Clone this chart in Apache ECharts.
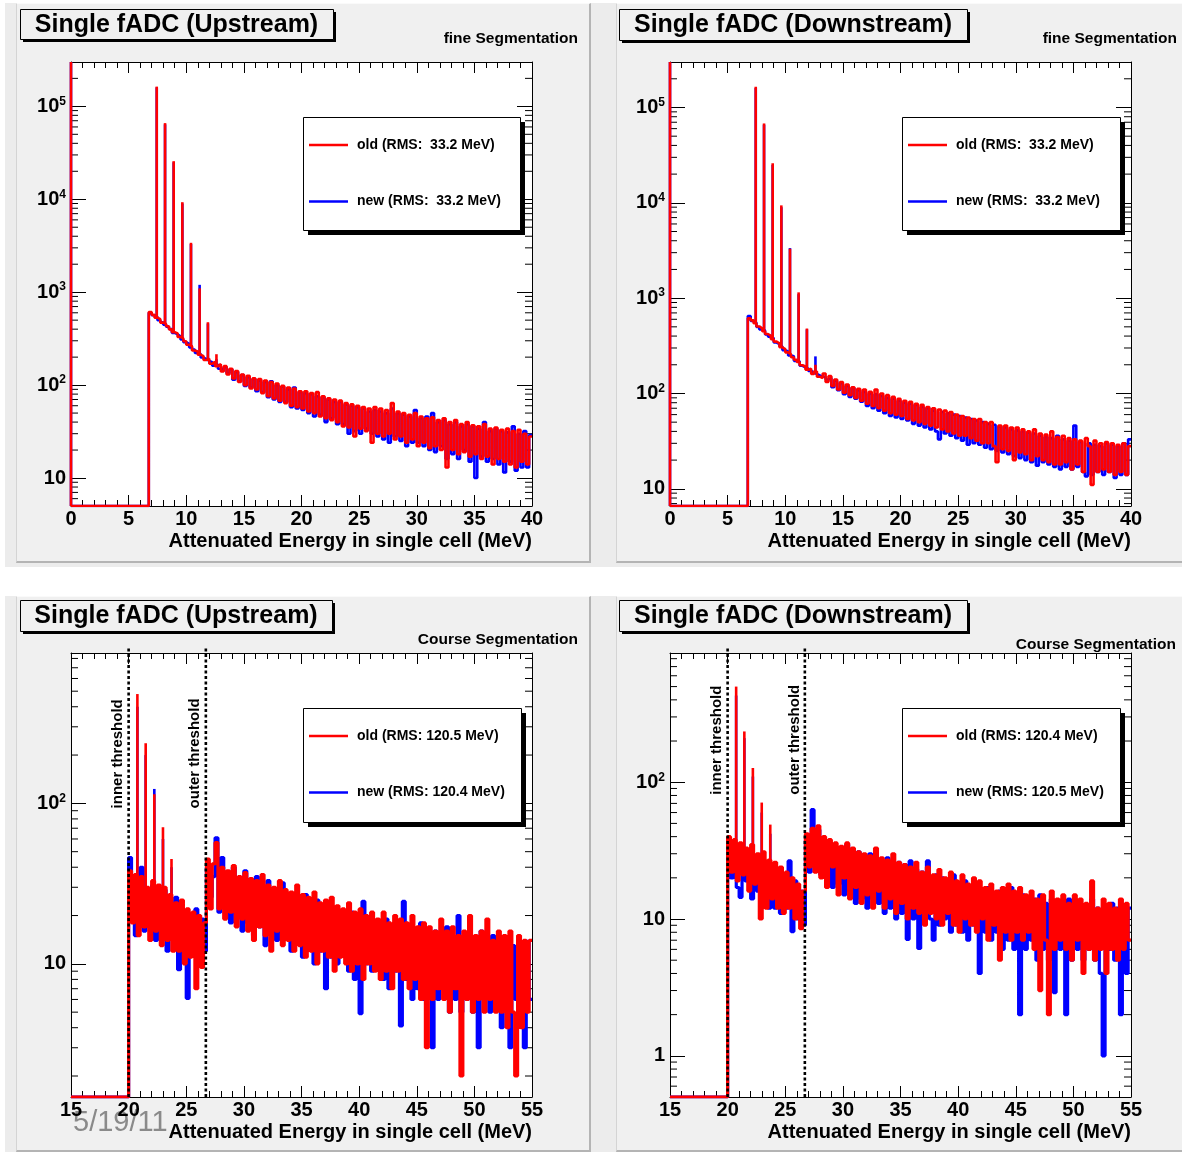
<!DOCTYPE html>
<html><head><meta charset="utf-8">
<script src="https://cdn.jsdelivr.net/npm/echarts@6/dist/echarts.min.js"></script>
<style>
html,body{margin:0;padding:0;background:#fff;}
#wrap{position:relative;width:1182px;height:1152px;overflow:hidden;background:#fff;}
.cv{position:absolute;background:#ececec;}
.pad{position:absolute;background:#f0f0f0;box-sizing:border-box;border-left:1px solid #d4d4d4;border-top:1px solid #fafafa;border-right:2px solid #b4b4b4;border-bottom:2px solid #b4b4b4;}
#chart{position:absolute;left:0;top:0;width:1182px;height:1152px;}
</style></head><body>
<div id="wrap">
<div class="cv" style="left:5px;top:3px;width:1177px;height:564px"></div>
<div class="cv" style="left:5px;top:596px;width:1177px;height:556px"></div>
<div class="pad" style="left:16px;top:3px;width:575px;height:560px"></div>
<div class="pad" style="left:616px;top:3px;width:570px;height:560px"></div>
<div class="pad" style="left:16px;top:596px;width:575px;height:556px"></div>
<div class="pad" style="left:616px;top:596px;width:570px;height:556px"></div>
<div id="chart"></div>
</div>
<script>
// ---------------- DATA ----------------
// fine segmentation: bins of 0.25 MeV from 0 to 40; bins 0..26 are empty,
// continuum from 6.75 MeV onwards; the off-scale count at 0 MeV is drawn as a spike
const fineBinWidth = 0.25;
const fineEmptyBins = 27;
const fineUpRed = [612,570,532,512,470,455,430,398,372,360,
 330,318,296,272,262,236,230,212,205,186,192,170,178,160,168,
 140,160,130,150,118,142,108,130,100,126,92,118,90,
 116,82,112,76,108,72,104,68,98,64,94,60,92,58,86,56,
 86,52,82,50,84,46,76,44,72,42,70,40,68,36,64,35,62,28,60,34,58,32,56,24,
 58,30,56,28,54,30,64,26,52,28, 50,24,48,26,50,22,46,24,44,21,
 45,22,42,20,44,13,40,20,42,18, 38,19,40,17,37,18,36,16,38,17,
 34,14,35,16,33,15,34,14,32,13, 33,15,30,14,28];
const fineUpBlue = [600,565,540,500,475,448,425,402,365,352,
 335,310,290,278,255,242,222,216,198,190,182,176,162,168,150,
 146,156,134,148,114,138,110,128,98,122,94,116,86,
 112,84,108,74,110,70,100,66,96,66,90,58,94,56,84,54,
 82,50,80,46,76,48,74,40,70,44,66,38,66,38,62,30,60,32,58,30,56,34,52,30,
 54,28,52,26,50,24,56,28,50,25, 48,22,46,24,54,24,44,22,46,20,
 50,19,40,22,42,16,38,18,40,16, 36,20,38,15,36,10,34,17,40,15,
 32,16,34,14,32,11.5,31,15,36,12, 30,13,32,13,29];
const fineDownRed = [615,585,545,505,482,450,420,405,372,350,
 336,305,292,270,258,240,226,214,198,192,178,182,160,170,150,
 145,162,132,152,120,140,110,132,102,124,96,116,90,
 112,84,110,78,104,74,110,70,100,66,96,62,92,60,88,58,
 84,54,82,52,78,50,76,48,72,46,70,44,68,42,66,40,64,38,60,36,58,36,56,34,
 54,32,54,30,50,30,50,28,19,46, 26,46,25,44,20,44,24,42,23,40,
 20,42,22,38,20,37,19,40,18,35, 18,36,19,34,16,33,18,32,15,34,
 28,11,32,15,30,16,31,15,30,14, 29,15,30,14,28];
const fineDownBlue = [650,578,552,498,470,458,415,395,380,342,
 330,312,285,276,250,245,220,218,195,188,182,172,166,160,155,
 150,150,140,146,116,136,108,128,98,120,92,114,88,
 108,82,104,74,100,70,98,66,94,62,90,58,88,56,84,54,
 80,52,78,48,76,46,72,44,70,42,66,40,33,64,38,62,36,60,34,58,32,56,29,54,
 30,52,29,50,27,48,26,47,25,45, 24,44,23,42,22,41,21,40,20,39,
 19,38,17.5,36,19,35,18,34,17,36, 16,33,17,32,16,46,17,31,15,13.5,
 30,14,29,15,28,14,30,15,29,13, 28,14,30,14,33];
// single-bin spikes (position in MeV, height in counts); first entry = off-scale bin at 0 MeV
const fineSpikeX = [0, 7.44, 8.16, 8.91, 9.66, 10.41, 11.16, 11.88, 12.62];
const fineUpRedSpike = [1e7, 163000, 66000, 25700, 9300, 3400, 1100, 475, 215];
const fineUpBlueSpike = [1e7, 160000, 64000, 25000, 9000, 3300, 1200, 460, 190];
const fineDownRedSpike = [1e7, 165000, 68000, 26000, 9400, 3300, 1150, 480, 200];
const fineDownBlueSpike = [1e7, 160000, 66000, 25000, 9000, 3350, 1100, 470, 245];

// course segmentation: bins of 0.25 MeV from 15 to 55; bins 15..20 empty
const coarseBinWidth = 0.25;
const coarseEmptyBins = 20;
const coarseUpRed = [38,18,36,15,35,17,30,14,33,16,
 31,13,30,14,27,12,24,12,25,10,
 22,11,21,7,20,9.5,18,45,22,42,
 57,22,40,19,38,21,41,17,35,19,
 37,16,34,14,33,17,36,15,31,12,
 30,16,33,13,29,14,28,12,31,13,
 27,11,26,12,28,10,24,12,25,11,
 26,9,23,11,22,10,24,9,21,10,
 22,8,20,10,21,9,19,8,21,9,
 18,7,20,9,19,8,18,7,20,8,
 17,6,18,3,17,6,16,7,19,6,
 16,5,17,7,15,2,16,6,20,5,
 15,6,16,5,19,6,14,5,16,5,
 15,4,16,5,2,15,4,14,5,14];
const coarseUpBlue = [46,20,15,34,40,16,28,20,31,14,
 26,17,29,12,24,15,26,9.2,21,14,
 6.1,20,13,22,11,19,12,40,26,35,
 61,21,46,23,37,18,40,22,34,16,
 38,18,31,15,35,17,29,13,33,16,
 28,14,27,32,15,25,12,26,14,24,
 11,27,13,22,10,25,12,21,7,23,
 11,22,10,20,12,19,9,21,8,20,
 4.9,24.5,10,19,9,18,11,17,8,19,
 7,16,9,18,4.1,24.5,8,17,6,16,
 7,18,6,15,7,3,16,6,15,7,
 17,5,14,6,20,5,15,6,13,5,
 14,3,16,6,13,5,15,6,12,4,
 14,5,3,13,6,12,5,3,13.8,6];
const coarseDownRed = [40,22,38,19,36,21,33,16,35,18,
 30,10,31,12,27,14,26,12,24,11,
 22,12,20,10,18,8.5,16,42,24,46,
 22,48,20,40,17,38,24,36,15,34,
 20,36,14,33,17,31,13,30,15,29,
 12,33,16,28,12,27,14,30,11,26,
 13,25,10,24,12,26,11,22,9,24,
 11,21,10,23,9,20,11,22,9,19,
 8,21,10,18,9,20,8,19,10,17,
 7,18,9,16,5,17,8,18,7,16,
 8,17,7,15,8,16,6,14,3,15,
 7,2,16,6,14,7,15,6,13,5,
 15,7,14,4,13,6,19,5,12,6,
 14,4,13,6,12,5,14,6,13,7];
const coarseDownBlue = [37,20,34,17,14.4,30,19,28,14,26,
 16,27,13,25,12,24,12,22,11,20,
 12,26.6,8.1,19,10,16,9,38,22,63,
 26,45,21,38,19,36,17,34,18,32,
 15,35,16,30,13,31,14,29,12,30,
 14,27,13,26,11,28,12,24,10,26,
 11,25,7.1,26.6,10,23,6.1,22,11,26.6,
 10,7,21,9,20,10,19,8,21,9,
 18,8,19,7,17,9,18,4,16,8,
 17,7,15,8,16,6,15,7,17,6,
 14,2,15,6,13,7,14,5,15,6,
 13,5,14,2.9,12,6,13,2,14,5,
 12,6,13,5,11,6,14,5,12,4,
 1,11,6,13,5,12,2,11,4,12];
const coarseUpSpikeX = [20.76, 21.48, 22.23, 22.98, 23.72];
const coarseUpRedSpike = [480, 237, 114, 71, 45];
const coarseUpBlueSpike = [400, 200, 123, 60, 40];
const coarseDownSpikeX = [20.74, 21.45, 22.19, 22.96, 23.7];
const coarseDownRedSpike = [500, 235, 127, 71, 49];
const coarseDownBlueSpike = [430, 210, 110, 60, 42];

// thresholds (MeV) and their labels
const thresholdX = [20, 26.7];
const thresholdNames = ['inner threshold', 'outer threshold'];
const thresholdLabelXUp = [19.08, 25.76];
const thresholdLabelXDown = [19.03, 25.8];
const thresholdLabelYUp = 93;
const thresholdLabelYDown = 81;

// axes / tick labels / texts
const xTicksFine = [0, 40, 5];     // min, max, step
const xTicksCoarse = [15, 55, 5];
const yRangeFineUp = [5, 3e5];
const yRangeFineDown = [6.6, 3e5];
const yRangeCoarseUp = [1.48, 865];
const yRangeCoarseDown = [0.5, 880];
const titles = ['Single fADC (Upstream)', 'Single fADC (Downstream)', 'Single fADC (Upstream)', 'Single fADC (Downstream)'];
const subtitles = ['fine Segmentation', 'fine Segmentation', 'Course Segmentation', 'Course Segmentation'];
const xTitle = 'Attenuated Energy in single cell (MeV)';
const legendOld = ['old (RMS:  33.2 MeV)', 'old (RMS:  33.2 MeV)', 'old (RMS: 120.5 MeV)', 'old (RMS: 120.4 MeV)'];
const legendNew = ['new (RMS:  33.2 MeV)', 'new (RMS:  33.2 MeV)', 'new (RMS: 120.4 MeV)', 'new (RMS: 120.5 MeV)'];
const dateStamp = '5/19/11';

// ---------------- BUILD ----------------
const FONT = '"Liberation Sans", Arial, Helvetica, sans-serif';
const RED = '#ff0000', BLUE = '#0000ff';
const zeros = n => Array(n).fill(0);

const panels = [
  {grid:{left:71, top:62, width:461, height:444}, xr:xTicksFine, yr:yRangeFineUp, bw:fineBinWidth, lw:2.6,
   red:zeros(fineEmptyBins).concat(fineUpRed), blue:zeros(fineEmptyBins).concat(fineUpBlue),
   spikeX:fineSpikeX, redSpike:fineUpRedSpike, blueSpike:fineUpBlueSpike},
  {grid:{left:670, top:62, width:461, height:444}, xr:xTicksFine, yr:yRangeFineDown, bw:fineBinWidth, lw:2.6,
   red:zeros(fineEmptyBins).concat(fineDownRed), blue:zeros(fineEmptyBins).concat(fineDownBlue),
   spikeX:fineSpikeX, redSpike:fineDownRedSpike, blueSpike:fineDownBlueSpike},
  {grid:{left:71, top:653, width:461, height:444}, xr:xTicksCoarse, yr:yRangeCoarseUp, bw:coarseBinWidth, lw:3.2,
   red:zeros(coarseEmptyBins).concat(coarseUpRed), blue:zeros(coarseEmptyBins).concat(coarseUpBlue),
   spikeX:coarseUpSpikeX, redSpike:coarseUpRedSpike, blueSpike:coarseUpBlueSpike,
   thr:true, labX:thresholdLabelXUp, labY:thresholdLabelYUp},
  {grid:{left:670, top:653, width:461, height:444}, xr:xTicksCoarse, yr:yRangeCoarseDown, bw:coarseBinWidth, lw:3.2,
   red:zeros(coarseEmptyBins).concat(coarseDownRed), blue:zeros(coarseEmptyBins).concat(coarseDownBlue),
   spikeX:coarseDownSpikeX, redSpike:coarseDownRedSpike, blueSpike:coarseDownBlueSpike,
   thr:true, labX:thresholdLabelXDown, labY:thresholdLabelYDown}
];

function histPoints(x0, bw, vals, yMin) {
  const pts = [[x0, yMin]];
  vals.forEach((v, i) => pts.push([x0 + i * bw, v > 0 ? v : yMin]));
  pts.push([x0 + vals.length * bw, vals[vals.length - 1] > 0 ? vals[vals.length - 1] : yMin]);
  return pts;
}
function minorTicks(lo, hi) {
  const out = [];
  for (let k = Math.floor(Math.log10(lo)); k <= Math.ceil(Math.log10(hi)); k++)
    for (let m = 2; m <= 9; m++) { const v = m * Math.pow(10, k); if (v > lo && v < hi) out.push(v); }
  return out;
}
const labelFmt = v => {
  const k = Math.round(Math.log10(v));
  if (k === 0) return '{b|1}';
  if (k === 1) return '{b|10}';
  return '{b|10}{s|' + k + '}';
};

const grids = [], xAxes = [], yAxes = [], series = [];
panels.forEach((pn, p) => {
  grids.push(Object.assign({show:true, backgroundColor:'#ffffff', borderWidth:0, containLabel:false}, pn.grid));
  const [xMin, xMax, xStep] = pn.xr;
  const [yMin, yMax] = pn.yr;
  ['bottom', 'top'].forEach(pos => xAxes.push({
    gridIndex:p, type:'value', min:xMin, max:xMax, interval:xStep, position:pos, z:1,
    axisLine:{show:true, onZero:false, lineStyle:{color:'#000', width:1}},
    axisTick:{show:true, inside:true, length:11, lineStyle:{color:'#000', width:1}},
    minorTick:{show:true, splitNumber:5, length:6, lineStyle:{color:'#000', width:1}},
    splitLine:{show:false}, minorSplitLine:{show:false},
    axisLabel:{show:pos === 'bottom', margin:3, fontSize:20, fontWeight:'bold', color:'#000', fontFamily:FONT}
  }));
  ['left', 'right'].forEach(pos => yAxes.push({
    gridIndex:p, type:'log', logBase:10, min:yMin, max:yMax, position:pos, z:1,
    axisLine:{show:true, onZero:false, lineStyle:{color:'#000', width:1}},
    axisTick:{show:true, inside:true, length:15, lineStyle:{color:'#000', width:1}},
    splitLine:{show:false},
    axisLabel:{show:pos === 'left', margin:5, showMinLabel:false, showMaxLabel:false, color:'#000',
      fontFamily:FONT, fontWeight:'bold', fontSize:20, formatter:labelFmt,
      rich:{b:{fontSize:20, fontWeight:'bold', fontFamily:FONT, color:'#000', lineHeight:22, verticalAlign:'middle'},
            s:{fontSize:12, fontWeight:'bold', fontFamily:FONT, color:'#000', lineHeight:13, verticalAlign:'top'}}}
  }));
  const xi = 2 * p, yi = 2 * p;
  // minor log ticks on both sides
  series.push({
    type:'custom', xAxisIndex:xi, yAxisIndex:yi, z:1, silent:true, animation:false,
    data:minorTicks(yMin, yMax).map(v => [xMin, v]),
    renderItem:(params, api) => {
      const v = api.value(1);
      const a = api.coord([xMin, v]), b = api.coord([xMax, v]);
      return {type:'group', children:[
        {type:'line', shape:{x1:a[0], y1:a[1], x2:a[0] + 7, y2:a[1]}, style:{stroke:'#000', lineWidth:1}},
        {type:'line', shape:{x1:b[0] - 7, y1:b[1], x2:b[0], y2:b[1]}, style:{stroke:'#000', lineWidth:1}}]};
    }
  });
  const addHist = (vals, spikes, color, z) => {
    series.push({type:'line', xAxisIndex:xi, yAxisIndex:yi, step:'end', symbol:'none', showSymbol:false,
      silent:true, animation:false, z:z, clip:true,
      lineStyle:{color:color, width:pn.lw}, itemStyle:{color:color},
      data:histPoints(xMin, pn.bw, vals, yMin)});
    series.push({type:'custom', xAxisIndex:xi, yAxisIndex:yi, z:z, silent:true, animation:false,
      data:pn.spikeX.map((x, i) => {
        const base = vals[Math.min(vals.length - 1, Math.floor((x - xMin) / pn.bw))];
        return [x, spikes[i], base > 0 ? base : yMin];
      }),
      renderItem:(params, api) => {
        const x = api.value(0);
        const p0 = api.coord([x, api.value(2)]), p1 = api.coord([x, Math.min(api.value(1), yMax)]);
        return {type:'line', shape:{x1:p0[0], y1:p0[1], x2:p1[0], y2:p1[1]}, style:{stroke:color, lineWidth:2.6}};
      }});
  };
  addHist(pn.blue, pn.blueSpike, BLUE, 2);
  addHist(pn.red, pn.redSpike, RED, 3);
  if (pn.thr) {
    series.push({type:'custom', xAxisIndex:xi, yAxisIndex:yi, z:5, silent:true, animation:false,
      data:thresholdX.map(x => [x, yMin]),
      renderItem:(params, api) => {
        const x = api.value(0);
        const a = api.coord([x, yMin]), b = api.coord([x, yMax]);
        return {type:'line', shape:{x1:a[0], y1:a[1], x2:b[0], y2:b[1] - 6},
          style:{stroke:'#000', lineWidth:2.6, lineDash:[3, 2.5]}};
      }});
    series.push({type:'custom', xAxisIndex:xi, yAxisIndex:yi, z:5, silent:true, animation:false,
      data:pn.labX.map(x => [x, pn.labY]),
      renderItem:(params, api) => {
        const c = api.coord([api.value(0), api.value(1)]);
        return {type:'text', x:c[0], y:c[1], rotation:Math.PI / 2,
          style:{text:thresholdNames[params.dataIndex], fontSize:15, fontWeight:'bold', fontFamily:FONT,
            fill:'#000', align:'left', verticalAlign:'middle'}};
      }});
  }
});

// ---------------- DECORATION (titles, legends) ----------------
const graphics = [];
const titleBoxes = [[20, 9, 313, 30], [619, 9, 348, 31], [20, 600, 312, 31], [619, 600, 348, 31]];
const subPos = [[578, 39], [1177, 39], [578, 639.5], [1176, 644.5]];
const legendBoxes = [[303, 117, 217, 113], [902, 117, 218, 113], [303, 708, 218, 114], [902, 708, 218, 114]];
panels.forEach((pn, p) => {
  const [bx, by, bw, bh] = titleBoxes[p];
  graphics.push({type:'rect', z:100, shape:{x:bx + 3, y:by + 3, width:bw, height:bh}, style:{fill:'#000'}});
  graphics.push({type:'rect', z:101, shape:{x:bx + 0.5, y:by + 0.5, width:bw, height:bh}, style:{fill:'#f0f0f0', stroke:'#000', lineWidth:1}});
  graphics.push({type:'text', z:102, x:bx + bw / 2, y:by + bh / 2 + 1, style:{text:titles[p], fontSize:25, fontWeight:'bold', fontFamily:FONT, fill:'#000', align:'center', verticalAlign:'middle'}});
  graphics.push({type:'text', z:102, x:subPos[p][0], y:subPos[p][1], style:{text:subtitles[p], fontSize:15.5, fontWeight:'bold', fontFamily:FONT, fill:'#000', align:'right', verticalAlign:'middle'}});
  const g = pn.grid;
  graphics.push({type:'text', z:102, x:g.left + g.width, y:g.top + g.height + 35, style:{text:xTitle, fontSize:20, fontWeight:'bold', fontFamily:FONT, fill:'#000', align:'right', verticalAlign:'middle'}});
  const [lx, ly, lw, lh] = legendBoxes[p];
  graphics.push({type:'rect', z:100, shape:{x:lx + 5, y:ly + 5, width:lw, height:lh}, style:{fill:'#000'}});
  graphics.push({type:'rect', z:101, shape:{x:lx + 0.5, y:ly + 0.5, width:lw, height:lh}, style:{fill:'#fff', stroke:'#000', lineWidth:1}});
  [[legendOld[p], RED, 28], [legendNew[p], BLUE, 84.5]].forEach(([t, c, dy]) => {
    graphics.push({type:'line', z:102, shape:{x1:lx + 6, y1:ly + dy, x2:lx + 45, y2:ly + dy}, style:{stroke:c, lineWidth:2.5}});
    graphics.push({type:'text', z:102, x:lx + 54, y:ly + dy, style:{text:t, fontSize:14, fontWeight:'bold', fontFamily:FONT, fill:'#000', align:'left', verticalAlign:'middle'}});
  });
});
graphics.push({type:'text', z:0, x:73, y:1123, style:{text:dateStamp, fontSize:29, fontFamily:FONT, fill:'#8a8a8a', align:'left', verticalAlign:'middle'}});

const chart = echarts.init(document.getElementById('chart'), null, {renderer:'canvas'});
chart.setOption({
  backgroundColor:'transparent',
  animation:false,
  grid:grids, xAxis:xAxes, yAxis:yAxes, series:series,
  graphic:{elements:graphics}
});
</script>
</body></html>
